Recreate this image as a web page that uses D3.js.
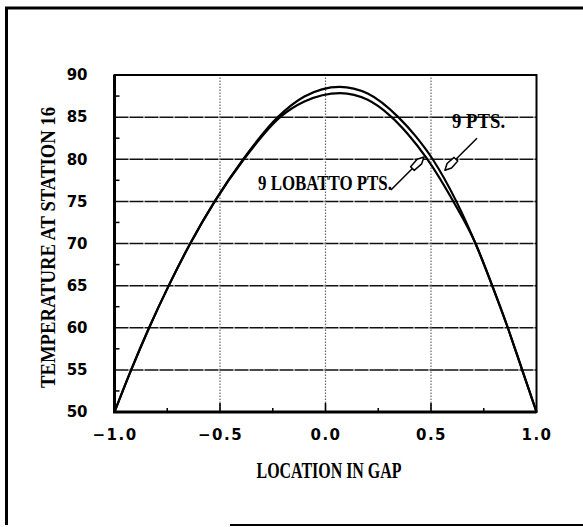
<!DOCTYPE html>
<html>
<head>
<meta charset="utf-8">
<script src="https://cdn.jsdelivr.net/npm/d3@7"></script>
<style>
  html, body { margin: 0; padding: 0; background: #fff; }
  svg { display: block; }
  .tick-label { font-family: "DejaVu Sans", sans-serif; font-weight: bold; font-size: 15px; fill: #000; }
  .title { font-family: "Liberation Serif", serif; font-weight: bold; fill: #000; }
</style>
</head>
<body>
<svg id="chart" width="583" height="527"></svg>
<script>
// values
const xTicks = [-1.0, -0.5, 0.0, 0.5, 1.0];
const xTickLabels = ["\u22121.0", "\u22120.5", "0.0", "0.5", "1.0"];
const xMinor = [-0.75, -0.25, 0.25, 0.75];
const yTicks = [50, 55, 60, 65, 70, 75, 80, 85, 90];
const yMinor = [52.5, 57.5, 62.5, 67.5, 72.5, 77.5, 82.5, 87.5];

// 9 PTS. (outer curve)
const ptsX = [-1.0, -0.921, -0.836, -0.743, -0.641, -0.525, -0.39, -0.226, -0.1, 0.067, 0.2, 0.345, 0.43, 0.508, 0.62, 0.711, 0.79, 0.864, 0.932, 1.0];
const ptsY = [50, 55, 60, 65, 70, 75, 80, 85, 87.45, 88.6, 87.8, 85, 82.65, 80, 75, 70, 65, 60, 55, 50];

// 9 LOBATTO PTS. (inner curve)
const lobX = [-1.0, -0.921, -0.836, -0.743, -0.641, -0.525, -0.387, -0.215, -0.1, 0.07, 0.2, 0.3, 0.39, 0.48, 0.61, 0.711, 0.79, 0.864, 0.932, 1.0];
const lobY = [50, 55, 60, 65, 70, 75, 80, 85, 86.85, 87.85, 87.05, 85.3, 83.0, 80.1, 74.8, 70, 65, 60, 55, 50];

const labels = [
  {text: "9 LOBATTO PTS.", x: -0.32, y: 76.36, len: 134, line: [[0.31, 76.36], [0.412, 78.9]], tip: [0.467, 80.27]},
  {text: "9 PTS.", x: 0.6, y: 83.7, len: 53, line: [[0.718, 82.5], [0.618, 80.0]], tip: [0.566, 78.7]}
];

const width = 583, height = 527;
const margin = {top: 75, right: 46.5, bottom: 115, left: 114.5};

const svg = d3.select("#chart");

// outer frame
svg.append("path")
  .attr("d", `M6.5,${height - 2} L6.5,8 L${width + 5},8`)
  .attr("fill", "none").attr("stroke", "#000").attr("stroke-width", 3);
svg.append("line")
  .attr("x1", 230).attr("x2", width).attr("y1", 525).attr("y2", 525)
  .attr("stroke", "#000").attr("stroke-width", 2);

const x = d3.scaleLinear().domain([-1, 1]).range([margin.left, width - margin.right]);
const y = d3.scaleLinear().domain([50, 90]).range([height - margin.bottom, margin.top]);

// grid
svg.append("g").selectAll("line")
  .data(yTicks.slice(1, -1))
  .join("line")
  .attr("x1", x(-1)).attr("x2", x(1))
  .attr("y1", d => y(d)).attr("y2", d => y(d))
  .attr("stroke", "#111").attr("stroke-width", 1.5)
  .attr("stroke-dasharray", "14,1");

svg.append("g").selectAll("line")
  .data(xTicks.slice(1, -1))
  .join("line")
  .attr("x1", d => x(d)).attr("x2", d => x(d))
  .attr("y1", y(50)).attr("y2", y(90))
  .attr("stroke", "#666").attr("stroke-width", 1.2)
  .attr("stroke-dasharray", "1.5,1.5");

// minor ticks
svg.append("g").selectAll("line")
  .data(yMinor)
  .join("line")
  .attr("x1", x(-1)).attr("x2", x(-1) + 5)
  .attr("y1", d => y(d)).attr("y2", d => y(d))
  .attr("stroke", "#000").attr("stroke-width", 1.5);

svg.append("g").selectAll("line")
  .data(xMinor)
  .join("line")
  .attr("x1", d => x(d)).attr("x2", d => x(d))
  .attr("y1", y(50)).attr("y2", y(50) - 4)
  .attr("stroke", "#000").attr("stroke-width", 1.5);

svg.append("g").selectAll("line")
  .data(xTicks.slice(1, -1))
  .join("line")
  .attr("x1", d => x(d)).attr("x2", d => x(d))
  .attr("y1", y(50)).attr("y2", y(50) - 9)
  .attr("stroke", "#000").attr("stroke-width", 1.6);

// plot frame
svg.append("rect")
  .attr("x", x(-1)).attr("y", y(90))
  .attr("width", x(1) - x(-1)).attr("height", y(50) - y(90))
  .attr("fill", "none").attr("stroke", "#000").attr("stroke-width", 2);
svg.append("path")
  .attr("d", `M${x(-1)},${y(90)} L${x(-1)},${y(50)} L${x(1)},${y(50)}`)
  .attr("fill", "none").attr("stroke", "#000").attr("stroke-width", 3);

// axes labels
const xAxis = g => g
  .attr("transform", `translate(0,${y(50)})`)
  .call(d3.axisBottom(x).tickValues(xTicks).tickSize(0).tickPadding(17)
    .tickFormat((d, i) => xTickLabels[i]))
  .call(g => g.select(".domain").remove())
  .call(g => g.selectAll("text").attr("class", "tick-label").attr("fill", null)
    .style("letter-spacing", "1.5px"));

const yAxis = g => g
  .attr("transform", `translate(${x(-1)},0)`)
  .call(d3.axisLeft(y).tickValues(yTicks).tickSize(0).tickPadding(27))
  .call(g => g.select(".domain").remove())
  .call(g => g.selectAll("text").attr("class", "tick-label").attr("fill", null));

svg.append("g").call(xAxis);
svg.append("g").call(yAxis);

svg.selectAll(".tick line").remove();

// titles
svg.append("text")
  .attr("class", "title")
  .attr("x", 329).attr("y", 478)
  .attr("text-anchor", "middle")
  .attr("font-size", 23)
  .attr("textLength", 145).attr("lengthAdjust", "spacingAndGlyphs")
  .text("LOCATION IN GAP");

svg.append("text")
  .attr("class", "title")
  .attr("transform", "translate(55,247.5) rotate(-90)")
  .attr("text-anchor", "middle")
  .attr("font-size", 22)
  .attr("textLength", 281).attr("lengthAdjust", "spacingAndGlyphs")
  .text("TEMPERATURE AT STATION 16");

// curves
const line = d3.line()
  .x(d => x(d[0]))
  .y(d => y(d[1]))
  .curve(d3.curveMonotoneX);

const series = [
  d3.zip(ptsX, ptsY),
  d3.zip(lobX, lobY)
];

svg.append("g").selectAll("path")
  .data(series)
  .join("path")
  .attr("fill", "none")
  .attr("stroke", "#000")
  .attr("stroke-width", 2.2)
  .attr("stroke-linejoin", "round")
  .attr("d", line);

// annotations
const ann = svg.append("g");
for (const a of labels) {
  ann.append("text")
    .attr("class", "title")
    .attr("x", x(a.x)).attr("y", y(a.y))
    .attr("font-size", 22)
    .attr("textLength", a.len).attr("lengthAdjust", "spacingAndGlyphs")
    .text(a.text);

  const p0 = [x(a.line[0][0]), y(a.line[0][1])];
  const p1 = [x(a.line[1][0]), y(a.line[1][1])];
  const tp = [x(a.tip[0]), y(a.tip[1])];
  ann.append("line")
    .attr("x1", p0[0]).attr("y1", p0[1]).attr("x2", p1[0]).attr("y2", p1[1])
    .attr("stroke", "#000").attr("stroke-width", 1.5);

  // open arrow head
  const dx = tp[0] - p1[0], dy = tp[1] - p1[1];
  const L = Math.hypot(dx, dy);
  const ux = dx / L, uy = dy / L, nx = -uy, ny = ux;
  const m = [p1[0] + dx * 0.6, p1[1] + dy * 0.6];
  const pts = [
    tp,
    [m[0] + nx * 3.2, m[1] + ny * 3.2],
    [p1[0] + nx * 2.6, p1[1] + ny * 2.6],
    [p1[0] - nx * 2.6, p1[1] - ny * 2.6],
    [m[0] - nx * 3.2, m[1] - ny * 3.2]
  ];
  ann.append("polygon")
    .attr("points", pts.map(p => p.join(",")).join(" "))
    .attr("fill", "#fff").attr("stroke", "#000").attr("stroke-width", 1.5)
    .attr("stroke-linejoin", "round");
}
</script>
</body>
</html>
